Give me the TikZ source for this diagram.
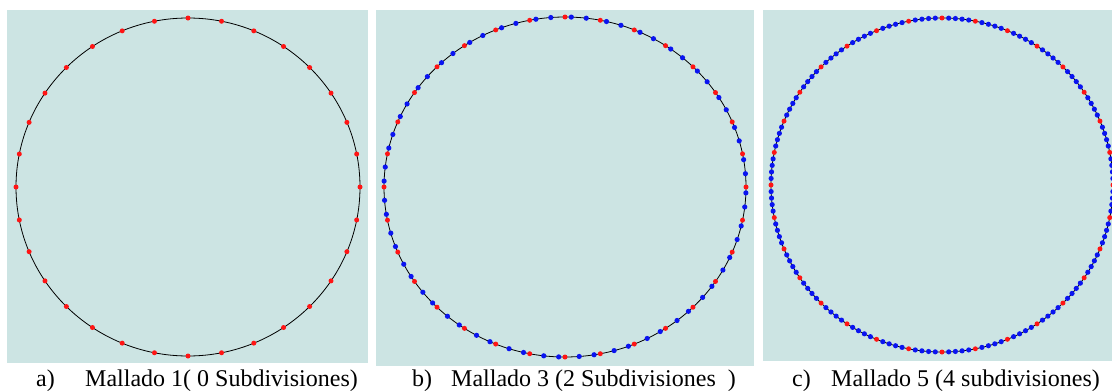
\documentclass[tikz,border=0pt]{standalone}
\usepackage{fontspec}
\setmainfont{Liberation Serif}
\definecolor{panelbg}{RGB}{204,228,227}
\definecolor{ptred}{RGB}{255,20,20}
\definecolor{ptblue}{RGB}{10,20,240}
\tikzset{
  panel/.style={fill=panelbg, draw=none},
  ring/.style={draw=black, line width=0.8pt},
  reddot/.style={fill=ptred},
  bluedot/.style={fill=ptblue},
  caption/.style={anchor=base west, inner sep=0pt, font=\fontsize{24}{28}\selectfont}
}
\begin{document}
\begin{tikzpicture}[x=1pt,y=-1pt]
\useasboundingbox (0,0) rectangle (1112,391);
\begin{scope}
\clip (0,0) rectangle (1112,391);
% panels
\fill[panel] (7,10) rectangle (368,363);
\fill[panel] (376,10) rectangle (754,366);
\fill[panel] (763,10) rectangle (1112,361);
% panel a
\draw[ring] (188,187) ellipse [x radius=172, y radius=169];
\foreach \k in {0,...,31}{
  \fill[reddot] ({188+172*cos(\k*11.25)},{187+169*sin(\k*11.25)}) circle (2.5);
}
% panel b
\draw[ring] (565,187) ellipse [x radius=181, y radius=170];
\foreach \k in {0,...,31}{
  \foreach \f in {2.0,6.75}{
    \fill[bluedot] ({565+181*cos(\k*11.25+\f)},{187+170*sin(\k*11.25+\f)}) circle (2.6);
  }
  \fill[reddot] ({565+181*cos(\k*11.25)},{187+170*sin(\k*11.25)}) circle (2.5);
}
% panel c
\draw[ring] (942,185) ellipse [x radius=171, y radius=167];
\foreach \k in {0,...,31}{
  \foreach \j in {1,2,3,4}{
    \fill[bluedot] ({942+171*cos(\k*11.25+\j*2.25)},{185+167*sin(\k*11.25+\j*2.25)}) circle (2.6);
  }
  \fill[reddot] ({942+171*cos(\k*11.25)},{185+167*sin(\k*11.25)}) circle (2.5);
}
\end{scope}
% captions
\node[caption] (la) at (36,386) {a)};
\node[caption] (ta) at (85,386) {Mallado 1( 0 Subdivisiones)};
\node[caption] (lb) at (412,386) {b)};
\node[caption] (tb) at (451,386) {Mallado 3 (2 Subdivisiones\ \ )};
\node[caption] (lc) at (792,386) {c)};
\node[caption] (tc) at (831,386) {Mallado 5 (4 subdivisiones)};
\end{tikzpicture}
\end{document}
